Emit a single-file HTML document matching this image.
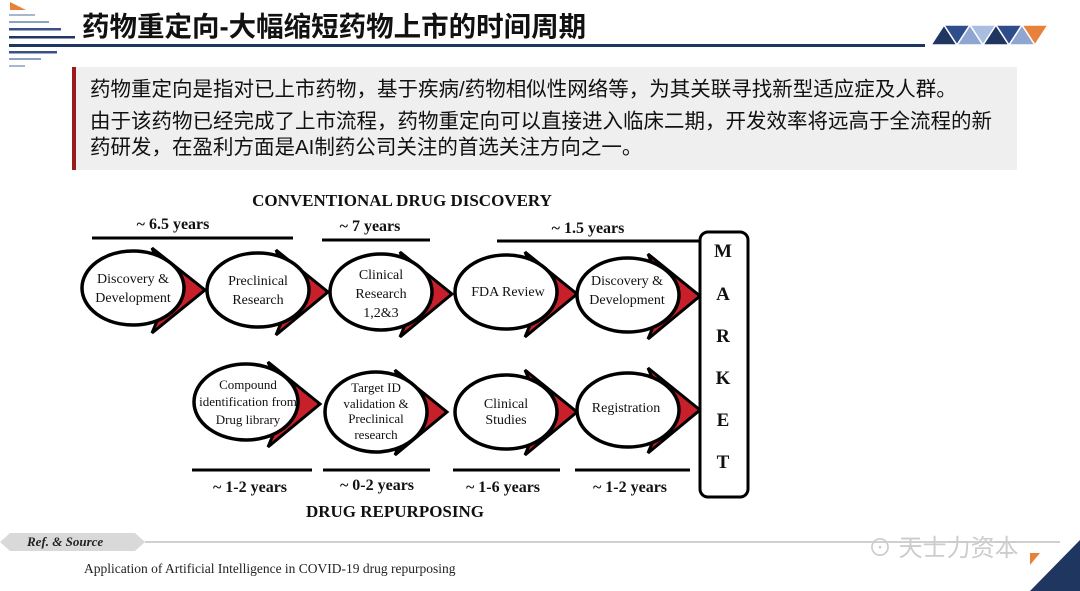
<!DOCTYPE html>
<html><head><meta charset="utf-8"><style>
body{margin:0;width:1080px;height:591px;background:#fff;overflow:hidden;position:relative;font-family:"Liberation Sans","Noto Sans CJK SC",sans-serif}
.t{position:absolute;white-space:nowrap}
</style></head><body>
<svg width="1080" height="591" style="position:absolute;left:0;top:0">
<polygon points="10,2 26,10 10,10" fill="#e8823a"/>
<rect x="9" y="14" width="26" height="2" fill="#a9b6cf"/>
<rect x="9" y="21" width="40" height="2" fill="#8fa1c2"/>
<rect x="9" y="28" width="52" height="2.5" fill="#3a5288"/>
<rect x="9" y="36" width="66" height="2.5" fill="#1f3660"/>
<rect x="9" y="44" width="916" height="3" fill="#1f3660"/>
<rect x="9" y="51" width="48" height="2.5" fill="#3a5288"/>
<rect x="9" y="58" width="32" height="2" fill="#8fa1c2"/>
<rect x="9" y="65" width="16" height="2" fill="#a9b6cf"/>
<g stroke="#fff" stroke-width="1.5">
<polygon points="931,45 944,25 957,45" fill="#1f3660"/>
<polygon points="944,25 970,25 957,45" fill="#2f4d8a"/>
<polygon points="957,45 970,25 983,45" fill="#8fa6d2"/>
<polygon points="970,25 996,25 983,45" fill="#a9bde0"/>
<polygon points="983,45 996,25 1009,45" fill="#1f3660"/>
<polygon points="996,25 1022,25 1009,45" fill="#2f4d8a"/>
<polygon points="1009,45 1022,25 1035,45" fill="#8fa6d2"/>
<polygon points="1022,25 1048,25 1035,45" fill="#e8823a"/>
</g>
<rect x="72" y="67" width="945" height="103" fill="#efefef"/>
<rect x="72" y="67" width="4" height="103" fill="#9b1b1b"/>
<g stroke="#000" stroke-width="3">
<line x1="92" y1="238" x2="293" y2="238"/>
<line x1="322" y1="240" x2="430" y2="240"/>
<line x1="497" y1="241" x2="705" y2="241"/>
<line x1="192" y1="470" x2="312" y2="470"/>
<line x1="323" y1="470" x2="430" y2="470"/>
<line x1="453" y1="470" x2="560" y2="470"/>
<line x1="575" y1="470" x2="690" y2="470"/>
</g>
<g stroke="#000" stroke-width="3" fill="#c8202a" stroke-linejoin="miter">
<polygon points="152,248 205,290 152,333 170,290"/>
<polygon points="276,250 328,292 276,335 294,292"/>
<polygon points="400,252 452,294 400,337 418,294"/>
<polygon points="525,252 577,294 525,337 543,294"/>
<polygon points="648,254 700,296 648,339 666,296"/>
<polygon points="268,362 320,404 268,447 286,404"/>
<polygon points="395,370 447,412 395,455 413,412"/>
<polygon points="525,370 577,412 525,455 543,412"/>
<polygon points="648,368 700,410 648,453 666,410"/>
</g>
<g stroke="#000" stroke-width="3.5" fill="#fff">
<ellipse cx="133" cy="288" rx="51" ry="37"/>
<ellipse cx="258" cy="290" rx="51" ry="37"/>
<ellipse cx="381" cy="292" rx="51" ry="38"/>
<ellipse cx="506" cy="292" rx="51" ry="37"/>
<ellipse cx="628" cy="295" rx="51" ry="37"/>
<ellipse cx="246" cy="402" rx="52" ry="38"/>
<ellipse cx="376" cy="412" rx="51" ry="40"/>
<ellipse cx="506" cy="412" rx="51" ry="37"/>
<ellipse cx="628" cy="410" rx="51" ry="37"/>
</g>
<rect x="700" y="232" width="48" height="265" rx="8" fill="#fff" stroke="#000" stroke-width="3"/>
<g font-family="Liberation Serif,serif" font-size="14" text-anchor="middle" fill="#111">
<text x="133" y="283">Discovery &amp;</text><text x="133" y="302">Development</text>
<text x="258" y="285">Preclinical</text><text x="258" y="304">Research</text>
<text x="381" y="279">Clinical</text><text x="381" y="298">Research</text><text x="381" y="317">1,2&amp;3</text>
<text x="508" y="296">FDA Review</text>
<text x="627" y="285">Discovery &amp;</text><text x="627" y="304">Development</text>
<text x="248" y="389" font-size="13">Compound</text><text x="248" y="406" font-size="13">identification from</text><text x="248" y="424" font-size="13">Drug library</text>
<text x="376" y="392" font-size="13">Target ID</text><text x="376" y="408" font-size="13">validation &amp;</text><text x="376" y="423" font-size="13">Preclinical</text><text x="376" y="439" font-size="13">research</text>
<text x="506" y="408">Clinical</text><text x="506" y="424">Studies</text>
<text x="626" y="412">Registration</text>
</g>
<g font-family="Liberation Serif,serif" font-weight="bold" font-size="16" text-anchor="middle" fill="#111">
<text x="173" y="229">~ 6.5 years</text>
<text x="370" y="231">~ 7 years</text>
<text x="588" y="233">~ 1.5 years</text>
<text x="250" y="492">~ 1-2 years</text>
<text x="377" y="490">~ 0-2 years</text>
<text x="503" y="492">~ 1-6 years</text>
<text x="630" y="492">~ 1-2 years</text>
<text x="402" y="206" font-size="17">CONVENTIONAL DRUG DISCOVERY</text>
<text x="395" y="517" font-size="17">DRUG REPURPOSING</text>
<text x="723" y="257" font-size="19">M</text>
<text x="723" y="300" font-size="19">A</text>
<text x="723" y="342" font-size="19">R</text>
<text x="723" y="384" font-size="19">K</text>
<text x="723" y="426" font-size="19">E</text>
<text x="723" y="468" font-size="19">T</text>
</g>
<polygon points="0,542 10,533 135,533 145,542 135,551 10,551" fill="#d9d9d9"/>
<line x1="145" y1="542" x2="1060" y2="542" stroke="#d0d0d0" stroke-width="2"/>
<polygon points="1030,591 1080,540 1080,591" fill="#1f3660"/>
<polygon points="1030,553 1040,553 1030,565" fill="#e8823a"/>
<text x="27" y="546" font-family="Liberation Serif,serif" font-style="italic" font-weight="bold" font-size="13" fill="#222">Ref. &amp; Source</text>
<text x="84" y="573" font-family="Liberation Serif,serif" font-size="13.5" fill="#222">Application of Artificial Intelligence in COVID-19 drug repurposing</text>
</svg>
<div class="t" style="left:82px;top:4px;font-size:27.5px;font-weight:bold;color:#111">药物重定向-大幅缩短药物上市的时间周期</div>
<div class="t" style="left:90px;top:77px;font-size:20.5px;color:#111;line-height:26px">药物重定向是指对已上市药物，基于疾病/药物相似性网络等，为其关联寻找新型适应症及人群。<br><span style="display:block;margin-top:6px">由于该药物已经完成了上市流程，药物重定向可以直接进入临床二期，开发效率将远高于全流程的新</span>药研发，在盈利方面是AI制药公司关注的首选关注方向之一。</div>
<div class="t" style="left:868px;top:528px;font-size:24px;color:#ccc">⊙ 天士力资本</div>
</body></html>
